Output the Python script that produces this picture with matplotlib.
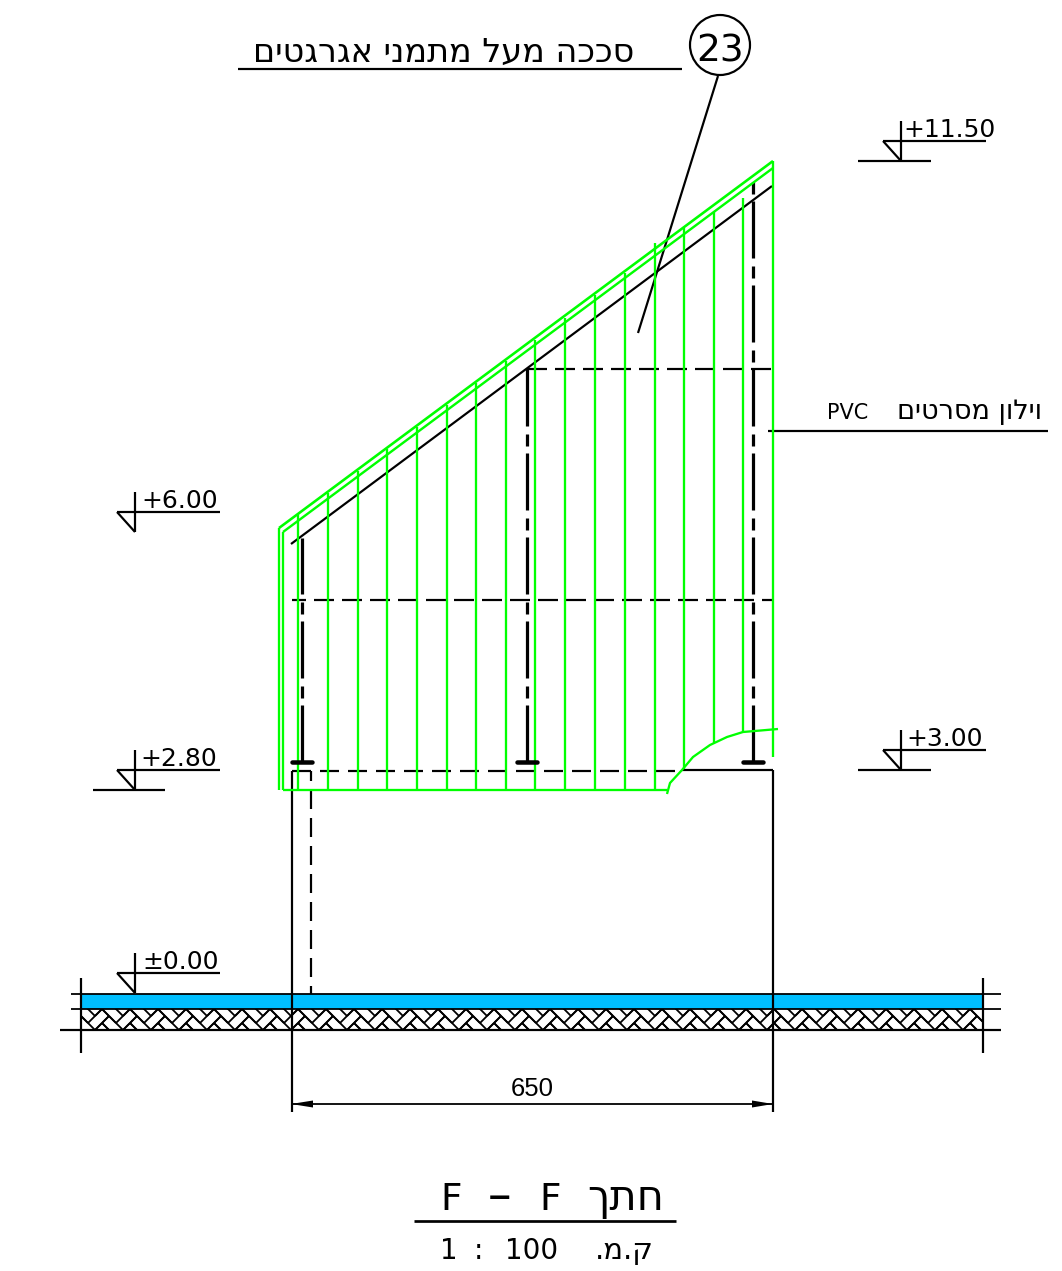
import numpy as np
import matplotlib
matplotlib.use('Agg')
import matplotlib.pyplot as plt
from matplotlib.collections import LineCollection
from matplotlib.patches import Circle, Rectangle, Polygon

plt.rcParams['lines.scale_dashes'] = False
plt.rcParams['font.family'] = ['DejaVu Sans']

GREEN = '#00ff00'
BLUE = '#00bfff'
BLACK = '#000000'

# all in pixels of the reference sheet
rib_x = [298, 328, 357.5, 387, 417, 447, 476, 506, 535, 565, 595, 625, 655, 684, 714, 743]
rib_top = [514, 493, 471, 449, 427, 405, 383, 361, 340, 318, 295, 273, 243, 228, 212, 198]
rib_bottom = [790, 790, 790, 790, 790, 790, 790, 790, 790, 790, 790, 790, 790, 769, 743, 732]
edge_x = [279, 283, 773]
edge_top = [528, 532, 161]
edge_bottom = [790, 790, 757]
roof_outer_x, roof_outer_y = [279, 773], [528, 161]
roof_inner_x, roof_inner_y = [283, 773], [532, 168]
roof_black_x, roof_black_y = [291, 772], [544, 186]
curve_x = [667, 670, 682, 693, 710, 727, 743, 778]
curve_y = [794, 783, 770, 757, 745, 737, 732, 729]

post_x = [301.5, 527, 752.5]
post_top = [538, 368, 178]
post_foot_y = 762

levels = [
    # mark x, level y, text, text x, baseline from, baseline to
    (135, 532, '+6.00', 180, None, None),
    (135, 790, '+2.80', 179, 93, 165),
    (901, 161, '+11.50', 949, 858, 931),
    (901, 770, '+3.00', 945, 858, 931),
    (135, 993, '\u00b10.00', 181, None, None),
]

title_he = 'סככה מעל מתמני אגרגטים'
curtain_he = 'וילון מסרטים'
section_he = 'חתך'
scale_he = 'ק.מ.'

fig = plt.figure(figsize=(10.62, 12.71), dpi=100, facecolor='white')
ax = fig.add_axes([0, 0, 1, 1])
ax.set_xlim(0, 1062)
ax.set_ylim(1271, 0)
ax.axis('off')


def px(v):
    return v * 0.72


def line(x, y, lw=2.2, color=BLACK, dashes=None, z=3):
    l, = ax.plot(x, y, color=color, lw=px(lw), solid_capstyle='butt', zorder=z)
    if dashes is not None:
        l.set_linestyle((px(dashes[0]), [px(d) for d in dashes[1]]))
        l.set_dash_capstyle('butt')
    return l


def vis(s):
    # matplotlib has no bidi, hebrew goes in reversed
    return s[::-1]


def label(x, y, s, size, family='DejaVu Sans'):
    ax.text(x, y, s, fontsize=size, ha='center', va='baseline', family=family, color=BLACK, zorder=6)


# ground layers
ax.add_patch(Rectangle((81, 994), 902, 15, fc=BLUE, ec='none', zorder=1))
segs = []
s = 9.9
r2 = 2 ** 0.5
for i in range(-30, 50):
    for j in range(-4, 4):
        ou = i * 2 + j
        ov = -i * 2 + j
        for (u0, v0, u1, v1) in [(0, 0, 2, 0), (0, 1, 2, 1), (0, 0, 0, 1), (2, -1, 2, 1), (3, -1, 3, 1), (2, -1, 3, -1)]:
            a = (u0 + ou, v0 + ov)
            b = (u1 + ou, v1 + ov)
            segs.append([(81 + (a[0] - a[1]) * s / r2, 1016 + (a[0] + a[1]) * s / r2),
                         (81 + (b[0] - b[1]) * s / r2, 1016 + (b[0] + b[1]) * s / r2)])
hatch = LineCollection(segs, colors=BLACK, linewidths=px(1.8), zorder=1)
ax.add_collection(hatch)
hatch.set_clip_path(Rectangle((81, 1009), 902, 21, transform=ax.transData))

line([71, 1001], [994, 994], lw=1.8)
line([71, 1001], [1009, 1009], lw=1.8)
line([60, 1001], [1030, 1030], lw=2.2)
line([81, 81], [978, 1053])
line([983, 983], [978, 1053])

# walls and dimension
line([291.5, 291.5], [771, 1112])
line([773, 773], [770, 1112])
line([682, 773], [770, 770])
line([291.5, 682], [771, 771], dashes=(0, (19, 9)))
line([311, 311], [771, 994], dashes=(9, (19, 9)))
line([291, 773], [1104, 1104], lw=1.8)
ax.add_patch(Polygon([(291, 1104), (313, 1100.5), (313, 1107.5)], fc=BLACK, ec='none', zorder=4))
ax.add_patch(Polygon([(773, 1104), (752, 1100.5), (752, 1107.5)], fc=BLACK, ec='none', zorder=4))
label(532, 1096, '650', 18.5, family='Liberation Sans')

# green mesh
for x, t, b in zip(rib_x, rib_top, rib_bottom):
    line([x, x], [t, b], lw=2.3, color=GREEN, z=4)
for x, t, b in zip(edge_x, edge_top, edge_bottom):
    line([x, x], [t, b], lw=2.3, color=GREEN, z=4)
line(roof_outer_x, roof_outer_y, lw=2.6, color=GREEN, z=4)
line(roof_inner_x, roof_inner_y, lw=2.4, color=GREEN, z=4)
line([283, 667], [790, 790], lw=2.3, color=GREEN, z=4)
line(curve_x, curve_y, lw=2.3, color=GREEN, z=4)

# roof support and posts
line(roof_black_x, roof_black_y, lw=2.2)
for x, t in zip(post_x, post_top):
    l = line([x, x], [post_foot_y, t], lw=3.2, dashes=(0, (57, 7, 12, 8)))
    ax.plot([x - 10, x + 10], [post_foot_y, post_foot_y], color=BLACK, lw=px(4.5), solid_capstyle='round', zorder=5)
line([292, 773], [600, 600], lw=2.2, dashes=(6, (20, 8)))
line([527, 773], [369, 369], lw=2.2, dashes=(0, (20, 8)))

# level marks
for x, y, txt, tx, b0, b1 in levels:
    mid = y - 20
    line([x, x], [y - 40, y])
    line([x - 18, x + 85], [mid, mid])
    line([x - 18, x], [mid, y])
    if b0 is not None:
        line([b0, b1], [y, y])
    label(tx, mid - 4, txt, 18)

# leader with bubble
ax.add_patch(Circle((720, 45), 30, fc='white', ec=BLACK, lw=px(2.2), zorder=5))
label(720, 61, '23', 27)
line([718, 638], [76, 333])
line([238, 682], [68.5, 68.5])
label(444, 62, vis(title_he), 24)

# curtain note
line([768, 1048], [431, 431])
label(848, 419, 'PVC', 15)
label(969.5, 419, vis(curtain_he), 19.5)

# section title
line([414, 676], [1220.5, 1220.5], lw=2.7)
label(451, 1210, 'F', 27)
label(500, 1210, '\u2013', 34)
label(550, 1210, 'F', 27)
label(626, 1210, vis(section_he), 30)
label(449, 1259, '1', 20)
label(478, 1259, ':', 20)
label(532, 1259, '100', 20)
label(624, 1259, vis(scale_he), 21)

fig.savefig('out.png', dpi=100, facecolor='white')
